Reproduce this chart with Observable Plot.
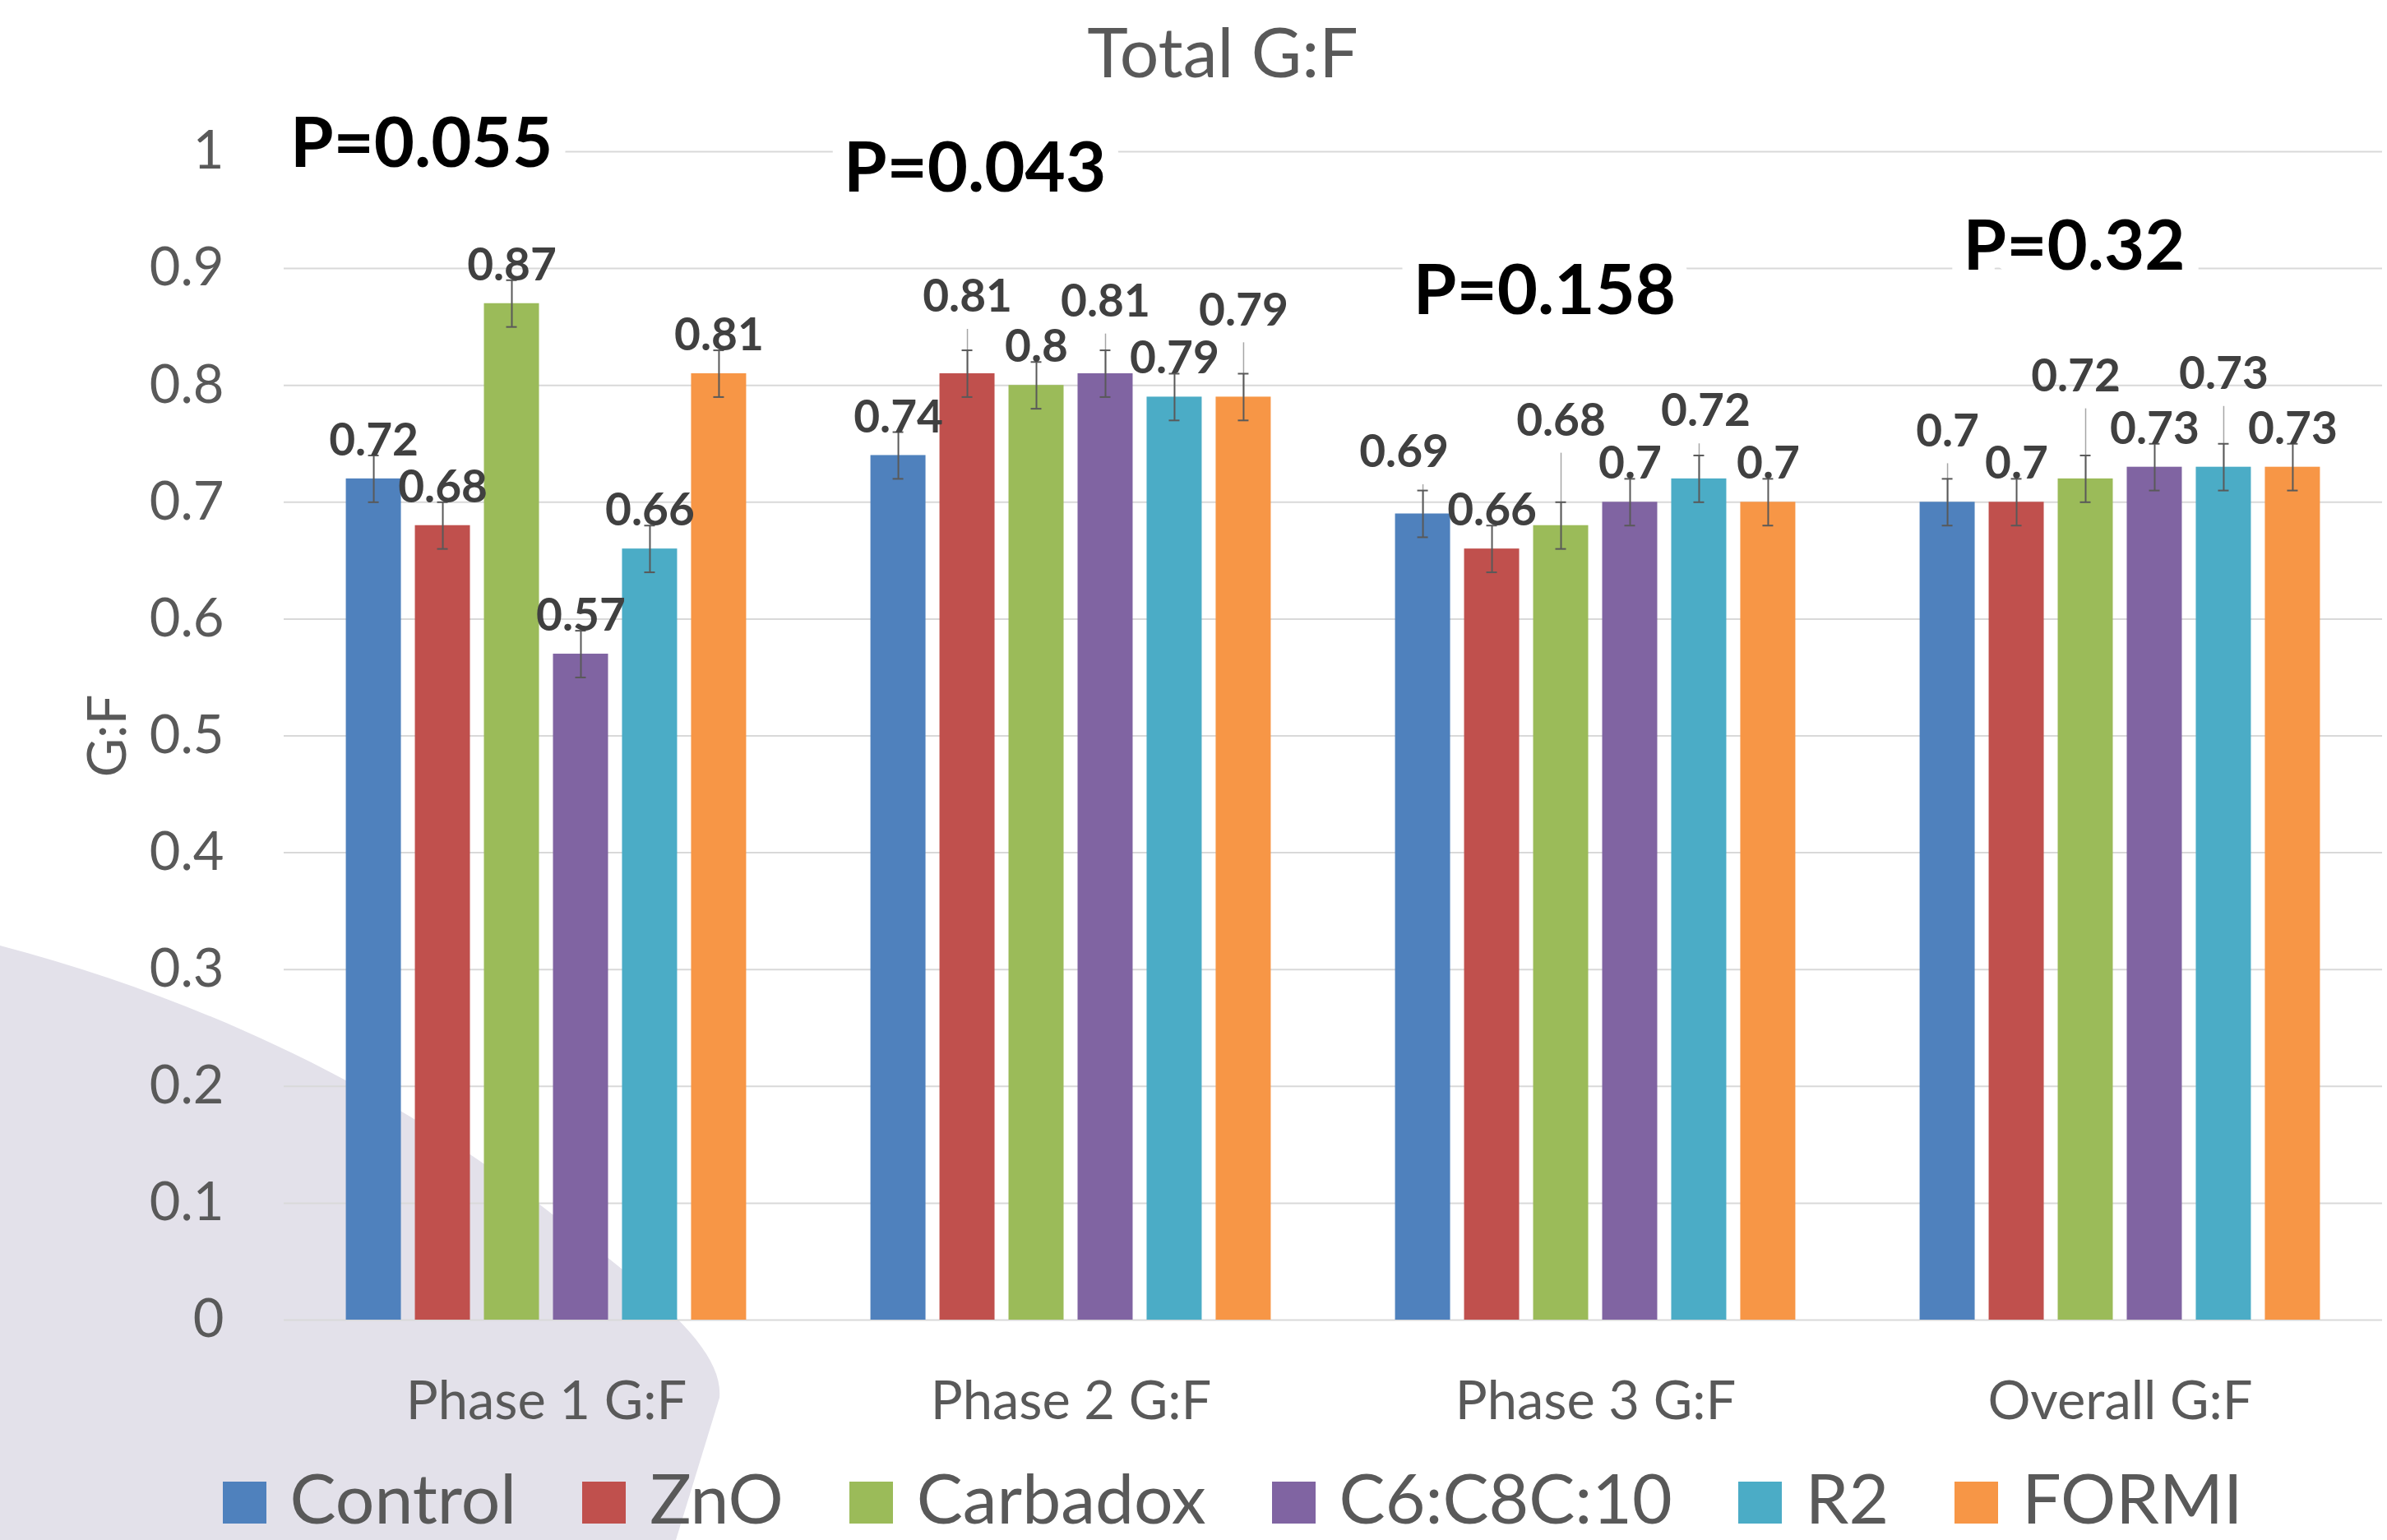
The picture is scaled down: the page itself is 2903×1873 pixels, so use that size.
<!DOCTYPE html>
<html>
<head>
<meta charset="utf-8">
<script src="https://cdn.jsdelivr.net/npm/d3@7"></script>
<script src="https://cdn.jsdelivr.net/npm/@observablehq/plot@0.6"></script>
<style>
  html, body { margin: 0; padding: 0; background: #ffffff; }
  body { width: 2903px; height: 1873px; position: relative; overflow: hidden; font-family: Lato, sans-serif; }
  #bg { position: absolute; left: 0; top: 0; z-index: 0; }
  #title { position: absolute; left: 0; top: 0; width: 2903px; height: 120px; box-sizing: border-box;
           padding-left: 71px; padding-top: 20px; text-align: center; font-size: 84px; line-height: 1; color: #595959; z-index: 2; }
  #chart { position: absolute; left: 0; top: 120px; z-index: 1; }
  #legend { position: absolute; left: 0; top: 1779px; width: 2903px; box-sizing: border-box; padding-left: 95px;
            display: flex; justify-content: center; align-items: center; gap: 80px; z-index: 2; }
  .item { display: flex; align-items: center; font-size: 84px; line-height: 1; color: #595959; }
  .sw { width: 53px; height: 51px; margin-right: 29px; position: relative; top: 6px; }
</style>
</head>
<body>
<svg id="bg" width="2903" height="1873"><path d="M0,1150 C250,1215 480,1330 650,1460 C800,1575 880,1640 875,1700 L822,1873 L0,1873 Z" fill="#e3e1ea"/></svg>
<div id="title">Total G:F</div>
<div id="chart"></div>
<div id="legend"></div>
<script>
// ---- data ----
const phases = ["Phase 1 G:F", "Phase 2 G:F", "Phase 3 G:F", "Overall G:F"];
const series = ["Control", "ZnO", "Carbadox", "C6:C8C:10", "R2", "FORMI"];
const colors = ["#4f81bd", "#c0504d", "#9bbb59", "#8064a2", "#4bacc6", "#f79646"];

const control  = [0.72, 0.74, 0.69, 0.70];
const zno      = [0.68, 0.81, 0.66, 0.70];
const carbadox = [0.87, 0.80, 0.68, 0.72];
const c6c8c10  = [0.57, 0.81, 0.70, 0.73];
const r2       = [0.66, 0.79, 0.72, 0.73];
const formi    = [0.81, 0.79, 0.70, 0.73];

const errControl  = [0.02, 0.02, 0.02, 0.02];
const errZno      = [0.02, 0.02, 0.02, 0.02];
const errCarbadox = [0.02, 0.02, 0.02, 0.02];
const errC6       = [0.02, 0.02, 0.02, 0.02];
const errR2       = [0.02, 0.02, 0.02, 0.02];
const errFormi    = [0.02, 0.02, 0.02, 0.02];

const yTicks = [0, 0.1, 0.2, 0.3, 0.4, 0.5, 0.6, 0.7, 0.8, 0.9, 1];

// P-value annotations
const pTexts  = ["P=0.055", "P=0.043", "P=0.158", "P=0.32"];
const pAnchor = ["ZnO", "ZnO", "Carbadox", "Carbadox"];   // bar the note sits over
const pLevel  = [0.987, 0.966, 0.861, 0.899];             // G:F level of the note's baseline
const pShift  = [-26, 9, -20, -14];                       // px nudge of each note

// where data labels were dragged in the original (extra G:F above the error bar, px sideways)
const labelLift = [
  [0, 0, 0.020, 0.028],
  [0, 0.033, 0, 0],
  [0, 0, 0.057, 0.055],
  [0, 0.029, 0, 0],
  [0, 0, 0.025, 0.047],
  [0, 0.0415, 0, 0]
];
const labelShift = [
  [0, 0, -23, 0],
  [0, 0, 0, 0],
  [0, 0, 0, -12],
  [0, 0, 0, 0],
  [0, 0, 8, 0],
  [0, 0, 0, 0]
];

// ---- build table ----
const valuesBySeries = [control, zno, carbadox, c6c8c10, r2, formi];
const errBySeries = [errControl, errZno, errCarbadox, errC6, errR2, errFormi];
const rows = [];
series.forEach((s, i) => phases.forEach((p, j) => rows.push({
  phase: p, series: s, value: valuesBySeries[i][j], err: errBySeries[i][j],
  lift: labelLift[i][j], shift: labelShift[i][j]
})));
const pRows = phases.map((p, j) => ({phase: p, text: pTexts[j], anchor: pAnchor[j], level: pLevel[j], shift: pShift[j]}));

const labelMarks = d3.groups(rows, d => d.shift).map(([shift, data]) => Plot.text(data, {
  fx: "phase", x: "series", y: d => d.value + d.err + d.lift,
  text: d => String(d.value), fontSize: 55, fontWeight: 700, fill: "#404040",
  lineAnchor: "bottom", dx: shift
}));

const pMarks = d3.groups(pRows, d => d.shift).map(([shift, data]) => Plot.text(data, {
  fx: "phase", x: "anchor", y: "level", text: "text", fontSize: 85, fontWeight: 700,
  fill: "#000000", stroke: "#ffffff", strokeWidth: 40, strokeLinejoin: "round", paintOrder: "stroke",
  lineAnchor: "bottom", dx: shift
}));

const chart = Plot.plot({
  width: 2903,
  height: 1630,
  marginLeft: 345,
  marginRight: 6,
  marginTop: 64,
  marginBottom: 145,
  style: {fontFamily: "Lato, sans-serif", background: "transparent", color: "#595959", overflow: "visible"},
  fx: {domain: phases, padding: 0, label: null},
  x: {domain: series, paddingInner: 0.2024, paddingOuter: 0.9, round: false, axis: null},
  y: {domain: [0, 1], axis: null},
  color: {domain: series, range: colors},
  marks: [
    Plot.ruleY(yTicks, {stroke: "#d9d9d9", strokeWidth: 2}),
    Plot.barY(rows, {fx: "phase", x: "series", y: "value", fill: "series"}),
    Plot.ruleX(rows.filter(d => d.lift > 0), {
      fx: "phase", x: "series", y1: "value", y2: d => d.value + d.err + d.lift - 0.015,
      stroke: "#a6a6a6", strokeWidth: 1.5
    }),
    Plot.ruleX(rows, {fx: "phase", x: "series", y1: d => d.value - d.err, y2: d => d.value + d.err, stroke: "#595959", strokeWidth: 2}),
    Plot.tickY(rows, {fx: "phase", x: "series", y: d => d.value + d.err, stroke: "#595959", strokeWidth: 2, insetLeft: 27, insetRight: 27}),
    Plot.tickY(rows, {fx: "phase", x: "series", y: d => d.value - d.err, stroke: "#595959", strokeWidth: 2, insetLeft: 27, insetRight: 27}),
    ...labelMarks,
    ...pMarks,
    Plot.axisY({ticks: yTicks, tickSize: 0, tickPadding: 73, fontSize: 65, tickFormat: d => String(d),
      label: "G:F", labelAnchor: "center", labelArrow: "none", labelOffset: 239}),
    Plot.axisFx({anchor: "bottom", tickSize: 0, tickPadding: 74, fontSize: 65, label: null})
  ]
});
document.getElementById("chart").appendChild(chart);

// legend
const legend = document.getElementById("legend");
series.forEach((s, i) => {
  const item = document.createElement("div");
  item.className = "item";
  const sw = document.createElement("div");
  sw.className = "sw";
  sw.style.background = colors[i];
  const label = document.createElement("span");
  label.textContent = s;
  item.appendChild(sw);
  item.appendChild(label);
  legend.appendChild(item);
});
</script>
</body>
</html>
